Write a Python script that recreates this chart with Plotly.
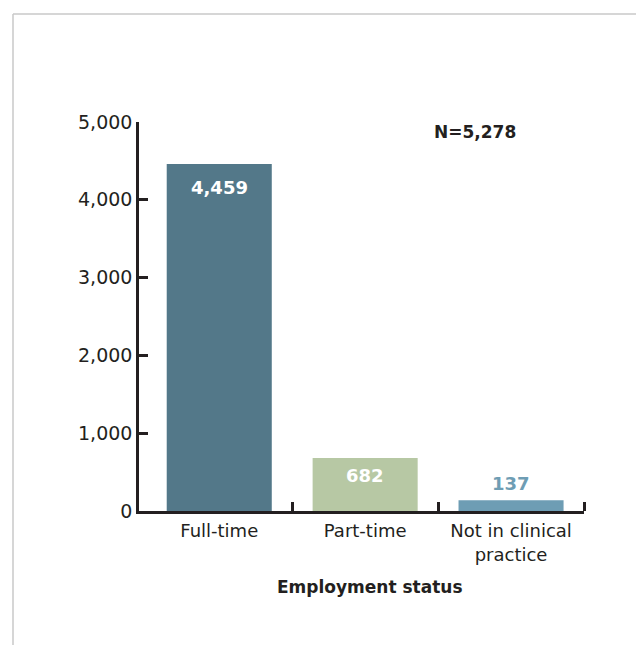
import plotly.graph_objects as go

categories = ["Full-time", "Part-time", "Not in clinical<br>practice"]
values = [4459, 682, 137]
bar_colors = ["#537889", "#b7c8a4", "#6e9db4"]
label_colors = ["white", "white", "#6e9db4"]
label_shift = [-23, -18, 17]
y_ticks = [0, 1000, 2000, 3000, 4000, 5000]
total_label = "N=5,278"
x_title = "Employment status"

FONT = "DejaVu Sans"
DARK = "#231f20"

xpos = list(range(len(categories)))
boundaries = [i + 0.5 for i in xpos]

fig = go.Figure()
fig.add_trace(go.Bar(
    x=xpos, y=values, marker=dict(color=bar_colors, line=dict(width=0)),
    hoverinfo="skip", showlegend=False,
))

for x, v, col, s in zip(xpos, values, label_colors, label_shift):
    fig.add_annotation(x=x, y=v, yshift=s, text=f"<b>{v:,}</b>", showarrow=False,
                       xanchor="center", yanchor="middle",
                       font=dict(family=FONT, size=18, color=col), xref="x", yref="y")

fig.add_annotation(xref="paper", yref="paper", x=(475 - 139) / 445, y=(511 - 132) / 389,
                   xanchor="center", yanchor="middle",
                   text=f"<b>{total_label}</b>", showarrow=False,
                   font=dict(family=FONT, size=17, color=DARK))
fig.add_annotation(xref="paper", yref="paper", x=(370 - 139) / 445, y=(511 - 587) / 389,
                   xanchor="center", yanchor="middle",
                   text=f"<b>{x_title}</b>", showarrow=False,
                   font=dict(family=FONT, size=17, color=DARK))

# frame lines
fig.add_shape(type="line", xref="paper", yref="paper",
              x0=(13 - 139) / 445, x1=(640 - 139) / 445, y0=(511 - 14) / 389, y1=(511 - 14) / 389,
              line=dict(color="#c8c8c8", width=1.5))
fig.add_shape(type="line", xref="paper", yref="paper",
              x0=(13 - 139) / 445, x1=(13 - 139) / 445, y0=(511 - 14) / 389, y1=(511 - 645) / 389,
              line=dict(color="#c8c8c8", width=1.5))

fig.update_layout(
    width=636, height=647,
    margin=dict(l=139, r=52, t=122, b=136),
    paper_bgcolor="white", plot_bgcolor="white",
    bargap=0.28,
    font=dict(family=FONT, color=DARK),
    xaxis=dict(
        range=[-0.55, 2.5], showline=True, linecolor=DARK, linewidth=2.5,
        tickvals=xpos, ticktext=categories, ticks="", ticklabelstandoff=2,
        minor=dict(tickvals=boundaries, ticks="inside", ticklen=9, tickwidth=2.5, tickcolor=DARK,
                   showgrid=False),
        tickfont=dict(family=FONT, size=18, color=DARK), showgrid=False, zeroline=False,
        fixedrange=True,
    ),
    yaxis=dict(
        range=[0, 5000], tickvals=y_ticks, ticktext=[f"{t:,}" for t in y_ticks],
        showline=True, linecolor=DARK, linewidth=2.5,
        ticks="inside", ticklen=9, tickwidth=2.5, tickcolor=DARK,
        tickfont=dict(family=FONT, size=19, color=DARK), showgrid=False, zeroline=False,
        fixedrange=True,
    ),
)

fig.write_html("out.html")
